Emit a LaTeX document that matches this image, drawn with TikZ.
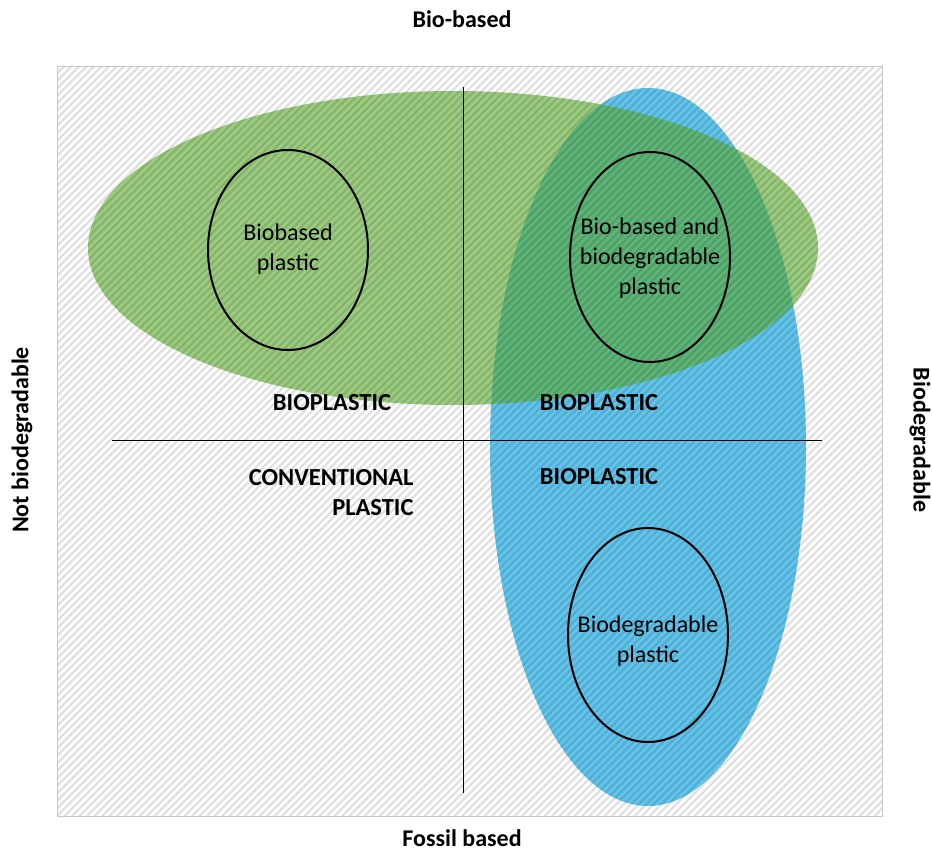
\documentclass[tikz,border=0pt]{standalone}
\usepackage{fontspec}
\setmainfont{Carlito}
\usepackage{tikz}
\usetikzlibrary{positioning}

\definecolor{leafgreen}{RGB}{92,172,48}
\definecolor{skyblue}{RGB}{96,196,236}
\definecolor{frameline}{RGB}{200,200,200}

\tikzset{
	hatchline/.style={black, draw opacity=0.12, line width=2.3pt},
	typeoval/.style={draw=black, line width=2pt},
	quadlabel/.style={font=\fontsize{24.5}{30}\selectfont\bfseries},
	ovallabel/.style={font=\fontsize{24}{30}\selectfont, align=center},
	axislabel/.style={font=\fontsize{24}{30}\selectfont\bfseries}
}

\begin{document}
\begin{tikzpicture}[x=1pt,y=-1pt]
		\useasboundingbox (0,0) rectangle (932,851);
		% hatched field
		\fill[white] (57,66) rectangle (882,816);
		% the two big regions
		\fill[skyblue] (648,447) ellipse [x radius=158, y radius=359];
		\fill[leafgreen, fill opacity=0.62] (453,248) ellipse [x radius=365, y radius=157];
		\begin{scope}
			\clip (57,66) rectangle (882,816);
			\foreach \s in {-750,-742.5,...,830}
				\draw[hatchline] (57+\s,816) -- ++(750,-750);
		\end{scope}
		\draw[frameline, line width=0.8pt] (57,66) rectangle (882,816);
		% axes
		\coordinate (top) at (463,87);
		\coordinate (bottom) at (463,793);
		\coordinate (left) at (112,440);
		\coordinate (right) at (822,440);
		\draw[line width=0.9pt] (top) -- (bottom);
		\draw[line width=0.9pt] (left) -- (right);
		% inner ovals
		\draw[typeoval] (288,250) ellipse [x radius=80, y radius=100];
		\draw[typeoval] (650,257) ellipse [x radius=80, y radius=105];
		\draw[typeoval] (648,635) ellipse [x radius=80, y radius=107];
		\node[ovallabel] (biobased) at (288,249) {Biobased\\plastic};
		\node[ovallabel] (both) at (650,258) {Bio-based and\\biodegradable\\plastic};
		\node[ovallabel] (biodeg) at (648,641) {Biodegradable\\plastic};
		% quadrant texts
		\node[quadlabel] (bioA) at (332,403) {BIOPLASTIC};
		\node[quadlabel] (bioB) at (599,403) {BIOPLASTIC};
		\node[quadlabel] (bioC) at (599,477) {BIOPLASTIC};
		\node[quadlabel, align=right, anchor=east] (conv) at (417,493) {CONVENTIONAL\\PLASTIC};
		% axis texts
		\node[axislabel, anchor=base] (biobasedaxis) at (462,28) {Bio-based};
		\node[axislabel, anchor=base] (fossil) at (462,846) {Fossil based};
		\node[axislabel, rotate=90] (notdeg) at (22,440) {Not biodegradable};
		\node[axislabel, rotate=-90] (deg) at (920,440) {Biodegradable};
	\end{tikzpicture}
\end{document}
